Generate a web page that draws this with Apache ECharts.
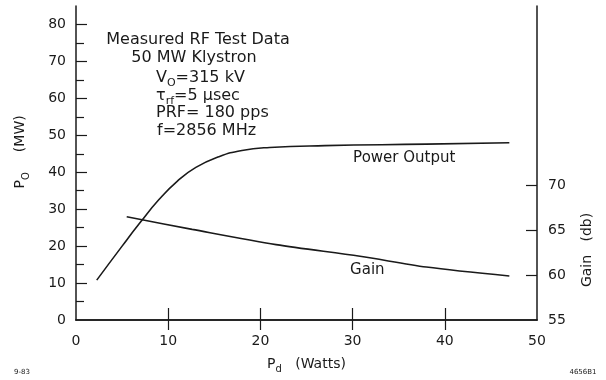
<!DOCTYPE html>
<html>
<head>
<meta charset="utf-8">
<script src="https://cdn.jsdelivr.net/npm/echarts@6/dist/echarts.min.js"></script>
<style>
  html, body { margin: 0; padding: 0; background: #fff; }
  #chart { width: 606px; height: 380px; }
</style>
</head>
<body>
<div id="chart"></div>
<script>
// Klystron RF test data: power output and gain vs drive power

const powerX = [2.25, 5.0, 7.0, 9.0, 11.0, 13.0, 15.5, 18.0, 21.0, 27.0, 38.0, 47.0];
const powerMW = [10.8, 20.0, 26.5, 32.6, 37.6, 41.3, 44.2, 45.9, 46.7, 47.2, 47.6, 48.0];

const gainX = [5.5, 12.6, 21.7, 30.8, 38.0, 47.0];
const gainDb = [66.5, 65.1, 63.4, 62.1, 60.9, 59.9];

const xTicks = [10, 20, 30, 40];
const powerLabels = [0, 10, 20, 30, 40, 50, 60, 70, 80];
const powerMajorTicks = [10, 20, 30, 40, 50, 60, 70, 80];
const powerMinorTicks = [5, 15, 25, 35, 45, 55, 65, 75];
const gainLabels = [55, 60, 65, 70];
const gainTicks = [60, 65, 70];

const ink = '#1a1a1a';
const font = 'DejaVu Sans';
const subRich = {
  p: { fontSize: 14, fontFamily: font, color: ink },
  sub: { fontSize: 10, fontFamily: font, color: ink, lineHeight: 10, padding: [12, 0, 0, 0] }
};
const annRich = {
  m: { fontSize: 16, fontFamily: font, fill: ink },
  s: { fontSize: 11, fontFamily: font, fill: ink, lineHeight: 11, padding: [11, 0, 0, 0] }
};

const chart = echarts.init(document.getElementById('chart'));

const lineAxis = { lineStyle: { color: ink, width: 1.5 } };
const labelStyle = { color: ink, fontSize: 14, fontFamily: font };

const option = {
  animation: false,
  backgroundColor: '#fff',
  grid: { left: 76, right: 69, top: 6, bottom: 60 },
  xAxis: [
    {
      type: 'value', position: 'bottom', min: 0, max: 50, interval: 10,
      axisLine: lineAxis,
      axisTick: { inside: true, length: 12, customValues: xTicks, lineStyle: { color: ink, width: 1.2 } },
      axisLabel: Object.assign({ margin: 14 }, labelStyle),
      splitLine: { show: false },
      name: '{p|P}{sub|d}    {p|(Watts)}',
      nameLocation: 'middle',
      nameGap: 36,
      nameTextStyle: { rich: subRich }
    },
    {
      type: 'value', position: 'top', min: 0, max: 50, interval: 10,
      axisLine: lineAxis,
      axisTick: { inside: true, length: 10, customValues: xTicks, lineStyle: { color: ink, width: 1.2 } },
      axisLabel: { show: false },
      splitLine: { show: false }
    }
  ],
  yAxis: [
    {
      type: 'value', position: 'left', min: 0, max: 85, interval: 10,
      axisLine: lineAxis,
      axisTick: { inside: true, length: 11, customValues: powerMajorTicks, lineStyle: { color: ink, width: 1.2 } },
      axisLabel: Object.assign({ margin: 10, customValues: powerLabels }, labelStyle),
      splitLine: { show: false },
      name: '{p|     P}{sub|O}      {p|(MW)}',
      nameLocation: 'middle',
      nameGap: 49,
      nameTextStyle: { rich: subRich }
    },
    {
      type: 'value', position: 'left', min: 0, max: 85, interval: 5,
      axisLine: { show: false },
      axisTick: { inside: true, length: 8, customValues: powerMinorTicks, lineStyle: { color: ink, width: 1.2 } },
      axisLabel: { show: false },
      splitLine: { show: false }
    },
    {
      type: 'value', position: 'right', min: 55, max: 90, interval: 5,
      axisLine: lineAxis,
      axisTick: { inside: true, length: 11, customValues: gainTicks, lineStyle: { color: ink, width: 1.2 } },
      axisLabel: Object.assign({ margin: 11, customValues: gainLabels }, labelStyle),
      splitLine: { show: false }
    }
  ],
  series: [
    {
      name: 'Power Output',
      type: 'line',
      xAxisIndex: 0,
      yAxisIndex: 0,
      smooth: 0.5,
      symbol: 'none',
      lineStyle: { color: ink, width: 1.6 },
      data: powerX.map((x, i) => [x, powerMW[i]]),
      markPoint: {
        symbolSize: 0,
        label: { show: true, position: 'inside', color: ink, fontSize: 15, fontFamily: font, formatter: 'Power Output' },
        data: [{ coord: [35.6, 43.9] }]
      }
    },
    {
      name: 'Gain',
      type: 'line',
      xAxisIndex: 0,
      yAxisIndex: 2,
      smooth: 0.3,
      symbol: 'none',
      lineStyle: { color: ink, width: 1.6 },
      data: gainX.map((x, i) => [x, gainDb[i]]),
      markPoint: {
        symbolSize: 0,
        label: { show: true, position: 'inside', color: ink, fontSize: 15, fontFamily: font, formatter: 'Gain' },
        data: [{ coord: [31.6, 60.6] }]
      }
    }
  ],
  graphic: [
    {
      type: 'text', x: 198, y: 48,
      style: { text: 'Measured RF Test Data', fill: ink, font: '16px "DejaVu Sans"', textAlign: 'center', textVerticalAlign: 'bottom' }
    },
    {
      type: 'text', x: 194, y: 66,
      style: { text: '50 MW Klystron', fill: ink, font: '16px "DejaVu Sans"', textAlign: 'center', textVerticalAlign: 'bottom' }
    },
    {
      type: 'text', x: 156, y: 78,
      style: { text: '{m|V}{s|O}{m|=315 kV}', textAlign: 'left', textVerticalAlign: 'middle', rich: annRich }
    },
    {
      type: 'text', x: 156, y: 96,
      style: { text: '{m|τ}{s|rf}{m|=5 μsec}', textAlign: 'left', textVerticalAlign: 'middle', rich: annRich }
    },
    {
      type: 'text', x: 156, y: 121,
      style: { text: 'PRF= 180 pps', fill: ink, font: '16px "DejaVu Sans"', textAlign: 'left', textVerticalAlign: 'bottom' }
    },
    {
      type: 'text', x: 157, y: 139,
      style: { text: 'f=2856 MHz', fill: ink, font: '16px "DejaVu Sans"', textAlign: 'left', textVerticalAlign: 'bottom' }
    },
    {
      type: 'text', x: 587, y: 250, rotation: Math.PI / 2,
      style: { text: 'Gain   (db)', fill: ink, font: '14px "DejaVu Sans"', textAlign: 'center', textVerticalAlign: 'middle' }
    },
    {
      type: 'text', x: 22, y: 372,
      style: { text: '9-83', fill: ink, font: '7px "DejaVu Sans"', textAlign: 'center', textVerticalAlign: 'middle' }
    },
    {
      type: 'text', x: 583, y: 372,
      style: { text: '4656B1', fill: ink, font: '7px "DejaVu Sans"', textAlign: 'center', textVerticalAlign: 'middle' }
    }
  ]
};

chart.setOption(option);
</script>
</body>
</html>
